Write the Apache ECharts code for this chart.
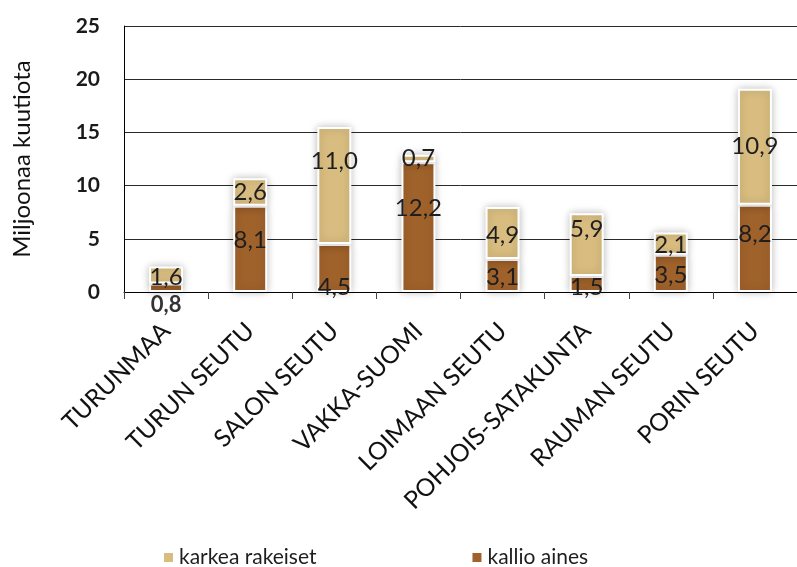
<!DOCTYPE html>
<html>
<head>
<meta charset="utf-8">
<script src="https://cdn.jsdelivr.net/npm/echarts@6/dist/echarts.min.js"></script>
<style>
  html, body { margin: 0; padding: 0; background: #fff; }
  #chart { width: 797px; height: 567px; }
</style>
</head>
<body>
<div id="chart"></div>
<script>
// Regions and aggregate volumes (million m³)
const regions = ['TURUNMAA', 'TURUN SEUTU', 'SALON SEUTU', 'VAKKA-SUOMI',
  'LOIMAAN SEUTU', 'POHJOIS-SATAKUNTA', 'RAUMAN SEUTU', 'PORIN SEUTU'];
const kallioAines = [0.8, 8.1, 4.5, 12.2, 3.1, 1.5, 3.5, 8.2];
const karkeaRakeiset = [1.6, 2.6, 11.0, 0.7, 4.9, 5.9, 2.1, 10.9];
const yTicks = { min: 0, max: 25, interval: 5 };

// Vertical nudges of the value labels (px) so they sit clear of neighbours
const kallioNudge = [0, -9, 19, -19, 2, 3, 2, -14];
const karkeaNudge = [2, 0, -24, 0, 2, -15, 2, 0];

const FONT = 'Lato';
const fmt = v => v.toFixed(1).replace('.', ',');

function buildData(values, nudges, special) {
  return values.map((v, i) => {
    const item = { value: v, label: { offset: [0, nudges[i]] } };
    if (special && special[i]) Object.assign(item.label, special[i]);
    return item;
  });
}

const barStyle = color => ({
  color: color,
  borderColor: '#ffffff',
  borderWidth: 2,
  shadowBlur: 8,
  shadowColor: 'rgba(0,0,0,0.25)',
  shadowOffsetX: 0,
  shadowOffsetY: 0
});

const baseLabel = {
  show: true,
  position: 'inside',
  fontFamily: FONT,
  fontSize: 24,
  color: '#1e1e1e',
  formatter: p => fmt(p.value)
};

const chart = echarts.init(document.getElementById('chart'));
chart.setOption({
  animation: false,
  grid: { left: 124, right: -10, top: 26, bottom: 275, containLabel: false },
  legend: {
    data: ['karkea rakeiset', 'kallio aines'],
    left: 157,
    top: 542,
    itemWidth: 11,
    itemHeight: 11,
    itemGap: 154,
    icon: 'rect',
    textStyle: { fontFamily: FONT, fontSize: 21, color: '#1e1e1e' }
  },
  xAxis: {
    type: 'category',
    data: regions,
    axisLine: { lineStyle: { color: '#000', width: 1 } },
    axisTick: { show: true, inside: false, length: 7, lineStyle: { color: '#444' } },
    axisLabel: {
      rotate: 45,
      margin: 35,
      interval: 0,
      fontFamily: FONT,
      fontSize: 24.5,
      color: '#111'
    }
  },
  yAxis: {
    type: 'value',
    min: yTicks.min,
    max: yTicks.max,
    interval: yTicks.interval,
    name: 'Miljoonaa kuutiota',
    nameLocation: 'middle',
    nameRotate: 90,
    nameGap: 90,
    nameTextStyle: { fontFamily: FONT, fontSize: 24, color: '#111' },
    axisLine: { show: true, lineStyle: { color: '#000', width: 1 } },
    axisTick: { show: false },
    axisLabel: { fontFamily: FONT, fontSize: 21, fontWeight: 'bold', color: '#1a1a1a', margin: 24 },
    splitLine: { lineStyle: { color: '#2a2a2a', width: 1 } }
  },
  series: [
    {
      name: 'kallio aines',
      type: 'bar',
      stack: 'total',
      barWidth: 34,
      itemStyle: barStyle('#A0622B'),
      label: baseLabel,
      data: buildData(kallioAines, kallioNudge, {
        0: { position: 'bottom', distance: 2, fontWeight: 'bold', color: '#333', fontSize: 22 }
      })
    },
    {
      name: 'karkea rakeiset',
      type: 'bar',
      stack: 'total',
      barWidth: 34,
      itemStyle: barStyle('#D9BD80'),
      label: baseLabel,
      data: buildData(karkeaRakeiset, karkeaNudge)
    }
  ]
});
</script>
</body>
</html>
